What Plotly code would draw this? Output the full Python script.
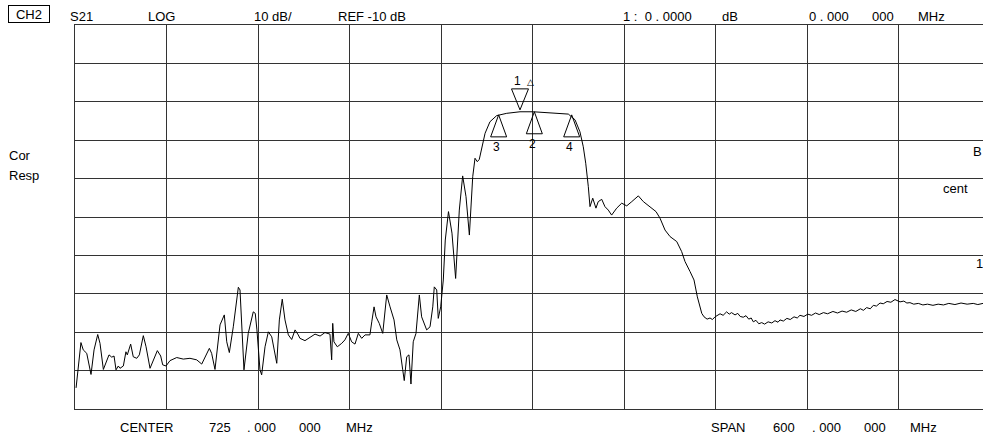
import plotly.graph_objects as go

# ---- trace data (frequency in MHz, S21 in dB) ----
freq_mhz = [
    425.7, 426.5, 428.9, 430.4, 432.7, 435.5, 437.5, 439.9, 441.4, 443.6,
    445.8, 447.3, 449.1, 450.6, 451.9, 453.4, 454.5, 456.7, 458.4, 459.3,
    461.5, 463.2, 465.5, 467.2, 469.8, 471.6, 474.2, 476.3, 479.0, 481.2,
    482.5, 484.7, 487.3, 491.7, 496.0, 500.4, 504.8, 508.1, 510.2, 513.1,
    514.6, 516.8, 520.1, 521.9, 522.9, 524.5, 526.2, 528.8, 531.0, 532.1,
    533.2, 535.8, 538.6, 541.9, 543.2, 544.3, 546.3, 547.4, 549.6, 551.8,
    554.0, 557.3, 559.0, 560.9, 562.7, 564.9, 567.1, 569.3, 571.4, 572.5,
    575.8, 579.1, 582.4, 585.7, 588.9, 592.2, 593.3, 594.0, 594.8, 597.0,
    599.9, 602.0, 604.2, 606.4, 608.6, 610.8, 613.0, 615.2, 618.4, 619.6,
    621.1, 622.4, 624.5, 626.8, 629.4, 631.6, 634.2, 636.0, 638.1, 639.9,
    640.9, 642.5, 644.0, 645.3, 646.8, 648.6, 650.8, 652.3, 655.6, 657.8,
    659.6, 660.6, 662.2, 663.2, 664.8, 666.5, 667.8, 669.9, 672.2, 674.6,
    677.0, 679.2, 681.4, 683.6, 685.8, 687.3, 688.8, 690.1, 691.7, 693.9,
    697.1, 701.5, 708.1, 716.8, 725.5, 734.3, 748.5, 752.9, 756.1, 758.3,
    759.9, 761.6, 762.7, 764.5, 765.3, 766.6, 768.1, 770.4, 772.5, 774.7,
    776.9, 780.2, 783.5, 786.8, 790.1, 794.4, 797.7, 802.0, 806.0, 808.6,
    811.9, 815.2, 819.6, 822.8, 825.0, 828.3, 830.9, 833.1, 836.0,
    837.5, 839.5, 841.4, 843.0, 844.7, 846.3, 848.0, 850.0, 852.3,
    854.0, 855.5, 857.8, 859.6, 861.2, 863.2, 865.0, 866.8, 868.4, 869.8,
    871.5, 873.4, 875.3, 877.2, 879.5, 881.9, 884.0, 886.0, 887.3, 889.5,
    891.8, 894.0, 896.5, 898.6, 900.4, 903.0, 905.5, 908.0, 910.6, 913.0,
    915.8, 918.5, 922.0, 925.0, 928.0, 931.0, 934.0, 937.0, 940.0, 942.0,
    944.1, 946.5, 948.5, 950.5, 952.9, 955.0, 957.5, 960.0, 962.7, 964.5,
    966.0, 968.5, 970.5, 972.5, 975.0, 978.0, 981.0, 984.0, 987.6, 991.0,
    994.5, 998.0, 1002.0, 1006.0, 1010.0, 1014.0, 1017.0, 1020.4,
]
s21_db = [
    -104.5, -101.6, -92.7, -94.6, -95.5, -101.0, -94.6, -90.6, -92.9, -99.7,
    -97.2, -95.9, -96.5, -96.2, -99.8, -98.8, -99.4, -98.8, -95.1, -95.9,
    -93.1, -96.4, -96.8, -95.9, -90.9, -93.8, -99.4, -97.2, -94.8, -96.2,
    -98.5, -98.8, -97.4, -96.6, -97.0, -96.8, -97.2, -98.3, -96.4, -94.2,
    -95.5, -99.7, -88.1, -86.6, -85.5, -92.5, -95.3, -88.6, -81.6, -78.3,
    -79.0, -99.8, -90.3, -84.7, -85.1, -89.4, -99.8, -101.1, -93.8, -89.9,
    -91.2, -98.1, -86.8, -81.4, -86.8, -90.7, -91.9, -89.4, -90.7, -91.6,
    -92.2, -91.3, -90.5, -91.0, -90.1, -90.5, -97.2, -87.7, -92.5, -93.8,
    -92.9, -92.0, -90.3, -92.5, -93.1, -90.3, -91.6, -90.7, -90.7, -87.3,
    -83.4, -86.0, -87.7, -90.3, -80.3, -83.4, -86.8, -92.0, -94.6, -99.8,
    -102.6, -96.4, -95.9, -103.5, -92.5, -90.3, -80.3, -86.0, -89.4, -88.6,
    -83.4, -78.2, -79.0, -86.4, -83.4, -76.4, -66.0, -58.6, -64.2, -76.0,
    -58.2, -49.3, -54.7, -64.7, -49.5, -44.7, -45.6, -45.0, -41.7, -38.2,
    -35.2, -33.6, -33.0, -32.6, -32.6, -32.8, -33.2, -34.7, -37.8, -41.7,
    -46.0, -52.1, -57.3, -55.1, -56.0, -57.7, -56.0, -55.4, -57.3, -58.2,
    -59.5, -57.7, -56.4, -57.1, -56.0, -54.5, -56.0, -57.3, -58.6, -60.3,
    -63.4, -65.1, -66.4, -69.0, -71.6, -74.2, -76.4, -80.8, -85.1,
    -86.0, -86.6, -86.3, -86.7, -86.0, -85.6, -85.2, -85.6, -84.7,
    -85.3, -84.9, -85.5, -85.1, -85.9, -86.1, -85.7, -86.6, -86.3, -87.3,
    -86.9, -87.8, -87.5, -87.9, -87.3, -87.6, -87.0, -87.4, -86.8, -87.1,
    -86.4, -86.7, -86.0, -86.3, -85.6, -85.9, -85.3, -85.6, -85.0, -85.4,
    -84.9, -85.2, -84.6, -85.0, -84.5, -84.8, -84.2, -84.6, -83.9, -84.3,
    -83.6, -83.9, -83.0, -83.2, -82.4, -82.6, -82.0, -82.2, -81.5, -81.8,
    -82.1, -81.9, -82.4, -82.3, -82.7, -82.5, -82.9, -82.7, -83.0, -82.7,
    -82.9, -82.5, -82.8, -82.4, -82.7, -82.5, -82.8, -82.5,
]

# ---- markers ----
marker_ids = ["1", "2", "3", "4"]
marker_freq = [716.8, 726.2, 702.8, 750.7]
marker_db = [-32.1, -32.6, -33.4, -33.4]

# ---- axis settings ----
center_mhz = 725.0
span_mhz = 600.0
ref_db = -10.0
scale_db = 10.0
x_start = center_mhz - span_mhz / 2
x_div = span_mhz / 10

W, H = 983, 439
ML, MR, MT, MB = 75, 0, 25, 30
PW = W - ML - MR
PH = H - MT - MB
x_end = x_start + x_div * PW / 91.5


def px(x):
    return (x - ML) / PW


def py(y):
    return (H - MB - y) / PH


FONT = "Liberation Sans, Arial, sans-serif"

fig = go.Figure()
fig.add_trace(go.Scatter(x=freq_mhz, y=s21_db, mode="lines",
                         line=dict(color="#000000", width=1),
                         hoverinfo="skip", showlegend=False))

shapes = []
annotations = []
up_tri = "M0,0 L-8,-22 L8,-22 Z"
down_tri = "M0,0 L-8.5,21 L8.5,21 Z"
for mid, mf, md in zip(marker_ids, marker_freq, marker_db):
    shapes.append(dict(type="path", xref="x", yref="y",
                       xsizemode="pixel", ysizemode="pixel",
                       xanchor=mf, yanchor=md,
                       path=down_tri if mid == "1" else up_tri,
                       line=dict(color="#000000", width=1)))

# marker labels
lab_pos = {"1": (517, 81), "2": (532, 144), "3": (496, 147), "4": (569, 147)}
for mid in marker_ids:
    lx, ly = lab_pos[mid]
    annotations.append(dict(text=mid, x=px(lx), y=py(ly), xref="paper", yref="paper",
                            showarrow=False, xanchor="center", yanchor="middle",
                            font=dict(size=12, color="#000", family=FONT)))
annotations.append(dict(text="△", x=px(530), y=py(82), xref="paper", yref="paper",
                        showarrow=False, xanchor="center", yanchor="middle",
                        font=dict(size=9, color="#000", family=FONT)))

top_texts = [("S21", 81), ("LOG", 161), ("10 dB/", 273), ("REF -10 dB", 371.5),
             ("1 :  0 . 0000", 657), ("dB", 730), ("0 . 000", 829), ("000", 883),
             ("MHz", 931.5)]
for t, cx in top_texts:
    annotations.append(dict(text=t, x=px(cx), y=py(16), xref="paper", yref="paper",
                            showarrow=False, xanchor="center", yanchor="middle",
                            font=dict(size=13, color="#000", family=FONT)))
annotations.append(dict(text="CH2", x=px(28.5), y=py(14), xref="paper", yref="paper",
                        showarrow=False, xanchor="center", yanchor="middle",
                        bordercolor="#000", borderwidth=1, borderpad=0,
                        width=40, height=16,
                        font=dict(size=13, color="#000", family=FONT)))

bottom_texts = [("CENTER", 146.7), ("725", 219.5), (". 000", 261), ("000", 310),
                ("MHz", 359), ("SPAN", 728), ("600", 784), (". 000", 826),
                ("000", 875), ("MHz", 923)]
for t, cx in bottom_texts:
    annotations.append(dict(text=t, x=px(cx), y=py(427), xref="paper", yref="paper",
                            showarrow=False, xanchor="center", yanchor="middle",
                            font=dict(size=13, color="#000", family=FONT)))

side_texts = [("Cor", 7, 155), ("Resp", 7, 175.5), ("B", 971, 151), ("cent", 941, 188),
              ("1", 974, 263)]
for t, lx, ly in side_texts:
    annotations.append(dict(text=t, x=px(lx), y=py(ly), xref="paper", yref="paper",
                            showarrow=False, xanchor="left", yanchor="middle",
                            font=dict(size=13, color="#000", family=FONT)))

GRID = "#333333"
fig.update_layout(
    width=W, height=H,
    margin=dict(l=ML, r=MR, t=MT, b=MB),
    paper_bgcolor="#ffffff", plot_bgcolor="#ffffff",
    showlegend=False,
    xaxis=dict(range=[x_start, x_end], tick0=x_start, dtick=x_div,
               showgrid=True, gridcolor=GRID, gridwidth=1.2,
               showticklabels=False, ticks="", zeroline=False,
               showline=True, linecolor=GRID, linewidth=1.2, mirror=True),
    yaxis=dict(range=[ref_db - 10 * scale_db, ref_db], tick0=ref_db, dtick=scale_db,
               showgrid=True, gridcolor=GRID, gridwidth=1.2,
               showticklabels=False, ticks="", zeroline=False,
               showline=True, linecolor=GRID, linewidth=1.2),
    shapes=shapes,
    annotations=annotations,
)

fig.write_html("out.html",
               config={"displayModeBar": False},
               post_script="document.body.style.margin='0';"
                           "document.body.style.overflow='hidden';")
